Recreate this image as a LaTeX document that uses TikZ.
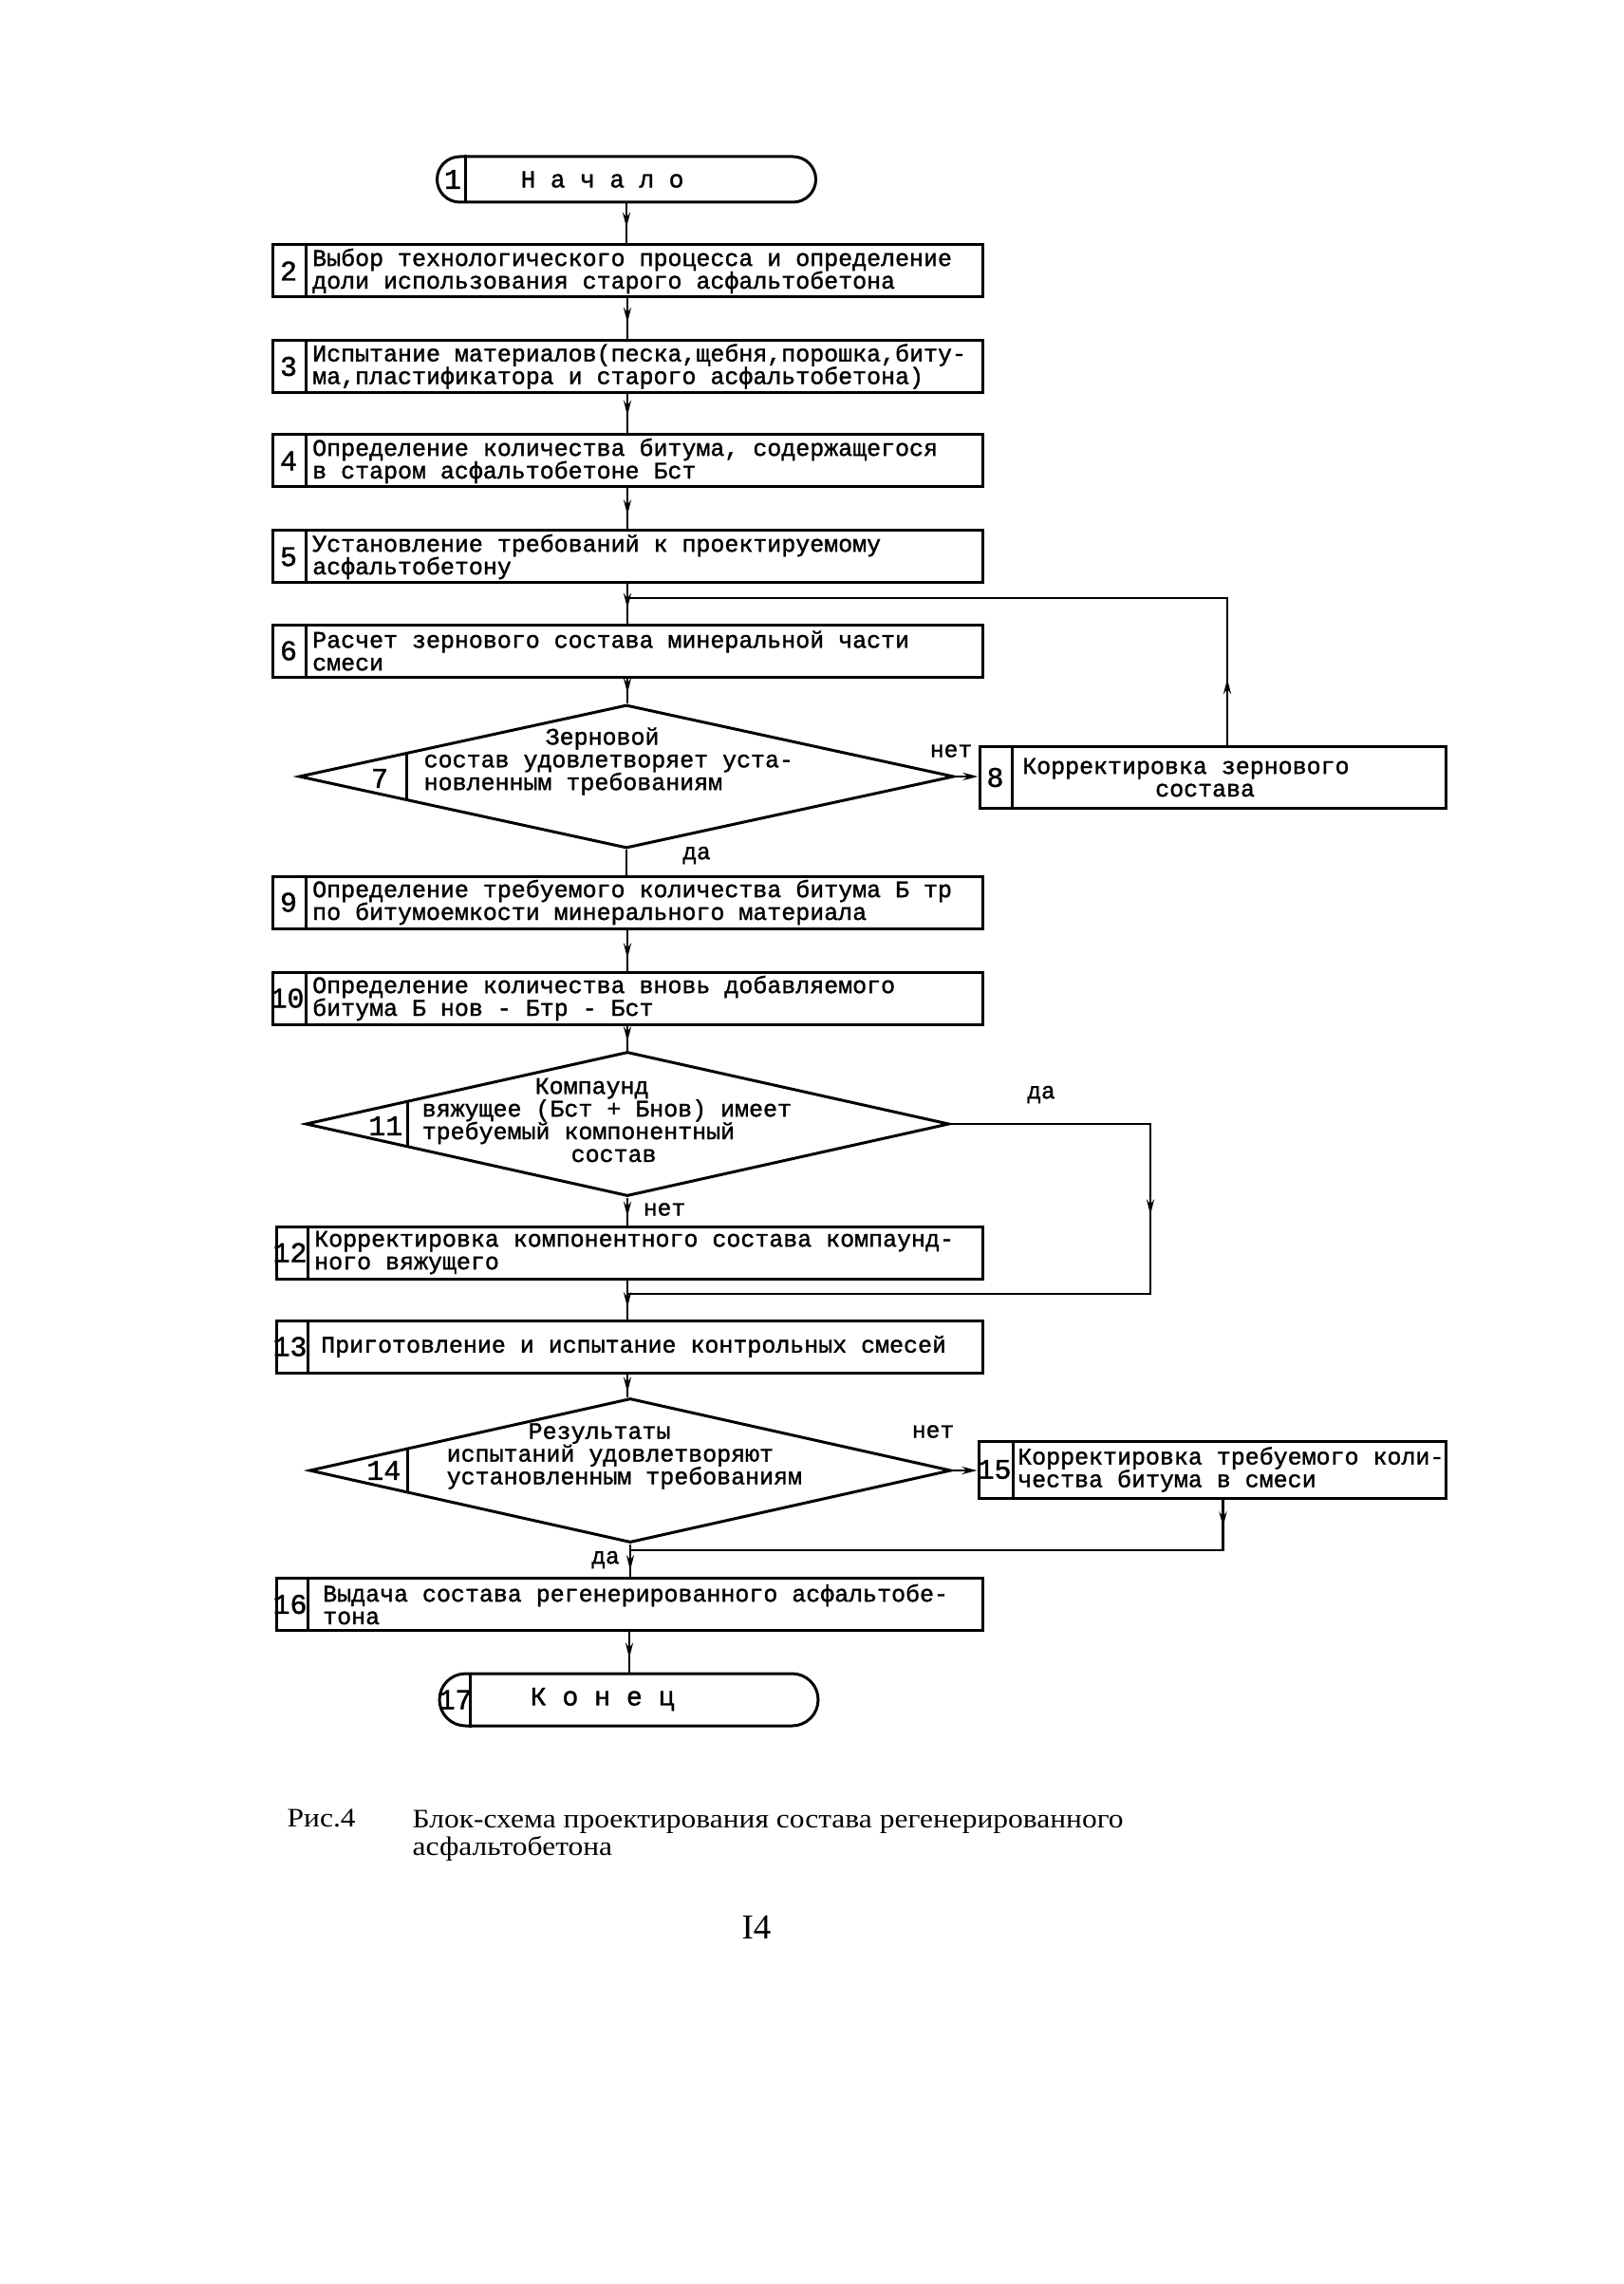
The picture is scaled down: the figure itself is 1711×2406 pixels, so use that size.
\documentclass[tikz,border=0pt]{standalone}
\usepackage{fontspec}
\setmainfont{Liberation Serif}
\newfontfamily\twfont[FakeBold=1.4]{Liberation Mono}
\newfontfamily\capfont[FakeStretch=1.12]{Liberation Serif}
\usetikzlibrary{shapes.geometric,shapes.misc,decorations.markings,arrows.meta,calc}
\tikzset{
 box/.style={draw, line width=0.3mm, rectangle, minimum width=74.8mm, minimum height=5.5mm, inner sep=0},
 term/.style={draw, line width=0.3mm, rounded rectangle, inner sep=0},
 dec/.style={draw, line width=0.3mm, diamond, inner sep=0},
 txt/.style={font=\twfont\fontsize{7.1pt}{6.8pt}\selectfont, align=left, inner sep=0, anchor=west},
 num/.style={font=\twfont\fontsize{8.5pt}{8.5pt}\selectfont, inner sep=0},
 lbl/.style={font=\twfont\fontsize{7pt}{7pt}\selectfont, inner sep=0},
 conn/.style={line width=0.25mm},
 div/.style={line width=0.3mm},
 tip/.style={-{Stealth[length=1.6mm,width=0.8mm]}},
 marr/.style={postaction={decorate}, decoration={markings, mark=at position #1 with {\arrow{Stealth[length=1.6mm,width=0.8mm]}}}},
 marr/.default=0.65
}
\begin{document}
\begin{tikzpicture}[x=0.1mm,y=-0.1mm]
\useasboundingbox[fill=white] (0,0) rectangle (1711,2406);

% ---- 1 start
\node[term, minimum width=39.9mm, minimum height=4.8mm] (s1) at (660,189) {};
\draw[div] ([xshift=3.1mm]s1.west |- s1.north) -- ([xshift=3.1mm]s1.west |- s1.south);
\node[num] (n1) at ([xshift=1.8mm]s1.west) {1};
\node[txt, font=\twfont\fontsize{7.4pt}{7.4pt}\selectfont] (t1) at (548,189) {Н а ч а л о};

% ---- boxes
\node[box] (b2) at (661,285.5) {};
\node[box] (b3) at (661,386) {};
\node[box] (b4) at (661,485.5) {};
\node[box] (b5) at (661,586.5) {};
\node[box] (b6) at (661,685.5) {};
\node[box] (b9) at (661,950.5) {};
\node[box] (b10) at (661,1051.5) {};
\node[box, minimum width=74.4mm] (b12) at (663,1319.5) {};
\node[box, minimum width=74.4mm] (b13) at (663,1418.5) {};
\node[box, minimum width=74.4mm] (b16) at (663,1690) {};
\node[box, minimum width=49.1mm, minimum height=6.5mm] (b8) at (1277.5,819) {};
\node[box, minimum width=49.2mm, minimum height=6mm] (b15) at (1277,1548) {};

\foreach \b in {b2,b3,b4,b5,b6,b9,b10}{
  \draw[div] ([xshift=3.7mm]\b.north west) -- ([xshift=3.7mm]\b.south west);
}
\foreach \b in {b12,b13,b16}{
  \draw[div] ([xshift=3.5mm]\b.north west) -- ([xshift=3.5mm]\b.south west);
}
\draw[div] ([xshift=3.6mm]b8.north west) -- ([xshift=3.6mm]b8.south west);
\draw[div] ([xshift=3.8mm]b15.north west) -- ([xshift=3.8mm]b15.south west);

\node[num] (n2) at ([xshift=1.85mm]b2.west) {2};
\node[num] (n3) at ([xshift=1.85mm]b3.west) {3};
\node[num] (n4) at ([xshift=1.85mm]b4.west) {4};
\node[num] (n5) at ([xshift=1.85mm]b5.west) {5};
\node[num] (n6) at ([xshift=1.85mm]b6.west) {6};
\node[num] (n9) at ([xshift=1.85mm]b9.west) {9};
\node[num] (n10) at ([xshift=1.7mm]b10.west) {10};
\node[num] (n12) at ([xshift=1.6mm]b12.west) {12};
\node[num] (n13) at ([xshift=1.6mm]b13.west) {13};
\node[num] (n16) at ([xshift=1.6mm]b16.west) {16};
\node[num] (n8) at ([xshift=1.8mm]b8.west) {8};
\node[num] (n15) at ([xshift=1.8mm]b15.west) {15};

\node[txt] (t2) at ([xshift=4.3mm]b2.west) {Выбор технологического процесса и определение\\доли использования старого асфальтобетона};
\node[txt] (t3) at ([xshift=4.3mm]b3.west) {Испытание материалов(песка,щебня,порошка,биту-\\ма,пластификатора и старого асфальтобетона)};
\node[txt] (t4) at ([xshift=4.3mm]b4.west) {Определение количества битума, содержащегося\\в старом асфальтобетоне Бст};
\node[txt] (t5) at ([xshift=4.3mm]b5.west) {Установление требований к проектируемому\\асфальтобетону};
\node[txt] (t6) at ([xshift=4.3mm]b6.west) {Расчет зернового состава минеральной части\\смеси};
\node[txt] (t9) at ([xshift=4.3mm]b9.west) {Определение требуемого количества битума Б тр\\по битумоемкости минерального материала};
\node[txt] (t10) at ([xshift=4.3mm]b10.west) {Определение количества вновь добавляемого\\битума Б нов - Бтр - Бст};
\node[txt] (t12) at ([xshift=4.1mm]b12.west) {Корректировка компонентного состава компаунд-\\ного вяжущего};
\node[txt] (t13) at ([xshift=4.8mm]b13.west) {Приготовление и испытание контрольных смесей};
\node[txt] (t16) at ([xshift=5mm]b16.west) {Выдача состава регенерированного асфальтобе-\\тона};
\node[txt] (t8) at ([xshift=4.6mm]b8.west) {Корректировка зернового\\\hspace*{14mm}состава};
\node[txt] (t15) at ([xshift=4.2mm]b15.west) {Корректировка требуемого коли-\\чества битума в смеси};

% ---- diamonds
\node[dec, minimum width=69mm, minimum height=15.1mm] (d7) at (660,818) {};
\node[dec, minimum width=67.8mm, minimum height=15.2mm] (d11) at (661,1184) {};
\node[dec, minimum width=67.6mm, minimum height=15.2mm] (d14) at (664,1549) {};
\draw[div] ($(d7.west)!0.333!(d7.north)$) -- ($(d7.west)!0.333!(d7.south)$);
\draw[div] ($(d11.west)!0.32!(d11.north)$) -- ($(d11.west)!0.32!(d11.south)$);
\draw[div] ($(d14.west)!0.31!(d14.north)$) -- ($(d14.west)!0.31!(d14.south)$);
\node[num] (n7) at (400,820) {7};
\node[num, anchor=east] (n11) at (425,1186) {11};
\node[num, anchor=east] (n14) at (423,1549) {14};
\node[txt] (t7) at (446,802) {\hspace*{12.8mm}Зерновой\\состав удовлетворяет уста-\\новленным требованиям};
\node[txt] (t11) at (444,1180) {\hspace*{11.9mm}Компаунд\\вяжущее (Бст + Бнов) имеет\\требуемый компонентный\\\hspace*{15.7mm}состав};
\node[txt] (t14) at (470,1534) {\hspace*{8.6mm}Результаты\\испытаний удовлетворяют\\установленным требованиям};

% ---- end
\node[term, minimum width=39.9mm, minimum height=5.5mm] (e17) at (662.5,1790.5) {};
\draw[div] ([xshift=3.4mm]e17.west |- e17.north) -- ([xshift=3.4mm]e17.west |- e17.south);
\node[num] (n17) at ([xshift=1.8mm]e17.west) {17};
\node[txt, font=\twfont\fontsize{8pt}{8pt}\selectfont] (t17) at (558,1790) {К о н е ц};

% ---- connectors
\coordinate (j1) at (660,630);
\coordinate (j2) at (661,1363);
\coordinate (j3) at (663,1633);
\coordinate (r11) at (1212,1363);

\draw[conn, marr=0.6] (s1.south) -- (s1.south |- b2.north);
\draw[conn, marr=0.6] (b2.south) -- (b3.north);
\draw[conn, marr=0.55] (b3.south) -- (b4.north);
\draw[conn, marr=0.65] (b4.south) -- (b5.north);
\draw[conn, marr=0.62] (b5.south) -- (b6.north);
\draw[conn, marr=0.6] (b6.south) -- (b6.south |- d7.north);
\draw[conn, tip] (d7.east) -- (d7.east -| b8.west);
\draw[conn, marr=7mm] ([xshift=1.55mm]b8.north) |- (j1);
\draw[conn] (d7.south) -- (d7.south |- b9.north);
\draw[conn, marr=0.7] (b9.south) -- (b10.north);
\draw[conn, marr=0.65] (b10.south) -- (b10.south |- d11.north);
\draw[conn, marr=30.6mm] (d11.east) -| (r11) -- (j2);
\draw[conn, marr=0.7] (d11.south) -- (d11.south |- b12.north);
\draw[conn, marr=0.7] (b12.south -| j2) -- (b13.north -| j2);
\draw[conn, marr=0.8] (b13.south -| j2) -- (d14.north -| j2);
\draw[conn, tip] (d14.east) -- (d14.east -| b15.west);
\draw[conn, marr=2.9mm] ([xshift=1.15mm]b15.south) |- (j3);
\draw[conn, marr=0.8] (d14.south) -- (d14.south |- b16.north);
\draw[conn, marr=0.65] (b16.south) -- (b16.south |- e17.north);

% ---- labels
\node[lbl] (l7n) at (1002,791) {нет};
\node[lbl] (l7d) at (734,901) {да};
\node[lbl] (l11d) at (1097,1153) {да};
\node[lbl] (l11n) at (700,1274) {нет};
\node[lbl] (l14n) at (983,1508) {нет};
\node[lbl] (l14d) at (638,1643) {да};

% ---- caption
\node[inner sep=0, anchor=base west, font=\capfont\fontsize{8pt}{8pt}\selectfont] (cap1) at (302,1924) {Рис.4};
\node[inner sep=0, anchor=north west, align=left, font=\capfont\fontsize{8pt}{6.5pt}\selectfont] (cap2) at (434,1906) {Блок-схема проектирования состава регенерированного\\асфальтобетона};
\node[inner sep=0, anchor=base, font=\fontsize{10.5pt}{10.5pt}\selectfont] (pg) at (797,2042) {I4};
\end{tikzpicture}
\end{document}
